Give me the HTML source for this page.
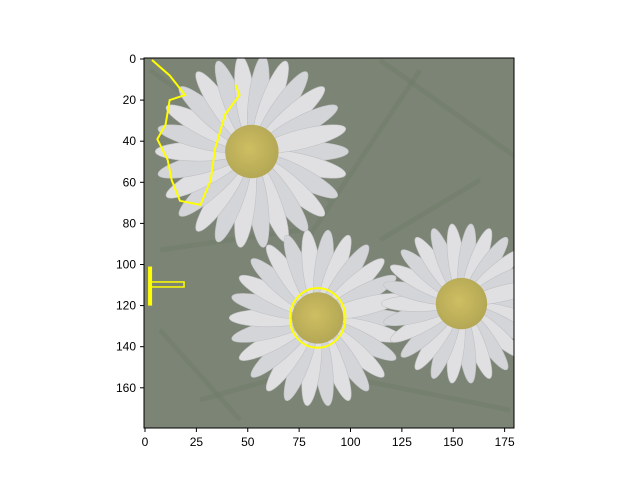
<!DOCTYPE html>
<html><head><meta charset="utf-8"><style>
body{margin:0;background:#fff;}
svg text{font-family:"Liberation Sans",sans-serif;font-size:12px;fill:#000;}
</style></head><body>
<svg id="chart" width="640" height="480" xmlns="http://www.w3.org/2000/svg">
<defs>
<clipPath id="clip"><rect x="144" y="58" width="370" height="370"/></clipPath>
<radialGradient id="cg" cx="0.45" cy="0.45" r="0.6"><stop offset="0" stop-color="#c8b64e"/><stop offset="1" stop-color="#a89a3c"/></radialGradient>
</defs>
<g id="img" clip-path="url(#clip)"></g>
<g id="overlay" clip-path="url(#clip)"></g>
<rect x="144" y="58" width="370" height="370" fill="none" stroke="#000" stroke-width="1"/>
<g id="axes"></g>
</svg>
<script>
const xTicks=[0,25,50,75,100,125,150,175];
const yTicks=[0,20,40,60,80,100,120,140,160];
const flowerX=[52,84,154];
const flowerY=[45,126,119];
const flowerR=[47,43,39];
const centerR=[13,12.5,12.5];
const contourX=[3.4,12,19.5,12,10,6,11,13,17,27,32,34,39,46,44];
const contourY=[0.5,8,17.5,20,32,39,49,59,69,71,59,44,27,17.5,12.5];
const ringX=84, ringY=126, ringRX=13.5, ringRY=14.5;

const S=2.055;
const sx=v=>145+v*S;
const sy=v=>59+v*S;
const NS="http://www.w3.org/2000/svg";
function mk(tag,attrs,parent){const e=document.createElementNS(NS,tag);for(const k in attrs)e.setAttribute(k,attrs[k]);parent.appendChild(e);return e;}
const img=document.getElementById('img');
const ov=document.getElementById('overlay');
const axes=document.getElementById('axes');

const bg=mk('rect',{x:144,y:58,width:370,height:370,fill:'#6a7463'},img);


const grass=[[150,70,330,200],[380,60,520,160],[420,70,300,250],[160,250,300,230],[160,330,240,420],[360,380,510,410],[480,180,380,240],[200,400,340,360]];
grass.forEach(g=>{const l=mk('line',{x1:g[0],y1:g[1],x2:g[2],y2:g[3],stroke:'#5c6853',"stroke-width":5,opacity:0.4},img);

});

for(let i=0;i<flowerX.length;i++){
  const cx=sx(flowerX[i]),cy=sy(flowerY[i]),r=flowerR[i]*S;
  const g=mk('g',{},img);
  
  
  const n=26;
  for(let k=0;k<n;k++){
    const a=k*360/n;
    mk('ellipse',{cx:cx+r*0.55,cy:cy,rx:r*0.45,ry:r*0.1,fill:(k%2?'#dcdcdf':'#cfd0d4'),stroke:'#b8b9bc',"stroke-width":0.6,transform:`rotate(${a} ${cx} ${cy})`},g);
  }
  const c=mk('circle',{cx:cx,cy:cy,r:centerR[i]*S,fill:'url(#cg)'},g);
  
  
}
const haze=mk('rect',{x:144,y:58,width:370,height:370,fill:'#ffffff',opacity:0.12},img);



const pts=contourX.map((x,i)=>sx(x)+','+sy(contourY[i])).join(' ');
const pl=mk('polyline',{points:pts,fill:'none',stroke:'#ffff00',"stroke-width":2},ov);


const ring=mk('ellipse',{cx:sx(ringX),cy:sy(ringY),rx:ringRX*S,ry:ringRY*S,fill:'none',stroke:'#ffff00',"stroke-width":2},ov);


const vl=mk('rect',{x:sx(1.5),y:sy(101),width:4,height:sy(120)-sy(101),fill:'#ffff00'},ov);


const hl=mk('rect',{x:sx(3),y:sy(108.5),width:sx(19)-sx(3),height:5,fill:'none',stroke:'#ffff00',"stroke-width":1.5},ov);



xTicks.forEach(t=>{
  const x=sx(t);
  const l=mk('line',{x1:x,y1:428,x2:x,y2:432,stroke:'#000'},axes);
  
  
  const tx=mk('text',{x:x,y:446,"text-anchor":'middle'},axes);tx.textContent=t;
  
  
});
yTicks.forEach(t=>{
  const y=sy(t);
  const l=mk('line',{x1:140,y1:y,x2:144,y2:y,stroke:'#000'},axes);
  
  
  const tx=mk('text',{x:136,y:y+4,"text-anchor":'end'},axes);tx.textContent=t;
  
  
});
</script>
</body></html>
